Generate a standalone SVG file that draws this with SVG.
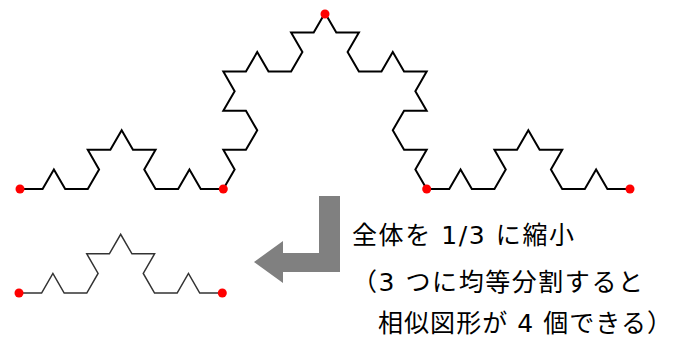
<svg xmlns="http://www.w3.org/2000/svg" width="676" height="342" viewBox="0 0 676 342">
<style>
.koch{fill:none;stroke-linejoin:miter;stroke-linecap:butt}
.top{stroke:#000;stroke-width:2}
.small{stroke:#333;stroke-width:1.5}
.dot{fill:#ff0000}
.lbl{font-family:"DejaVu Sans","Noto Sans CJK JP",sans-serif;font-size:25px;fill:#000}
</style>
<rect width="676" height="342" fill="#fff"/>
<g id="koch-full">
<path class="koch top" d="M20 189 l22.593 0 11.296 -19.566 11.296 19.566 22.593 0 11.296 -19.566 -11.296 -19.566 22.593 0 11.296 -19.566 11.296 19.566 22.593 0 -11.296 19.566 11.296 19.566 22.593 0 11.296 -19.566 11.296 19.566 22.593 0
11.296 -19.566 -11.296 -19.566 22.593 0 11.296 -19.566 -11.296 -19.566 -22.593 0 11.296 -19.566 -11.296 -19.566 22.593 0 11.296 -19.566 11.296 19.566 22.593 0 11.296 -19.566 -11.296 -19.566 22.593 0 11.296 -19.566
11.296 19.566 22.593 0 -11.296 19.566 11.296 19.566 22.593 0 11.296 -19.566 11.296 19.566 22.593 0 -11.296 19.566 11.296 19.566 -22.593 0 -11.296 19.566 11.296 19.566 22.593 0 -11.296 19.566 11.296 19.566
22.593 0 11.296 -19.566 11.296 19.566 22.593 0 11.296 -19.566 -11.296 -19.566 22.593 0 11.296 -19.566 11.296 19.566 22.593 0 -11.296 19.566 11.296 19.566 22.593 0 11.296 -19.566 11.296 19.566 22.593 0"/>
<circle class="dot" cx="20" cy="189" r="4.5"/>
<circle class="dot" cx="223.3" cy="189" r="4.5"/>
<circle class="dot" cx="325" cy="14" r="4.5"/>
<circle class="dot" cx="426.7" cy="189" r="4.5"/>
<circle class="dot" cx="630" cy="189" r="4.5"/>
</g>
<g id="koch-small">
<path class="koch small" d="M19 293 l22.593 0 11.296 -19.566 11.296 19.566 22.593 0 11.296 -19.566 -11.296 -19.566 22.593 0 11.296 -19.566 11.296 19.566 22.593 0 -11.296 19.566 11.296 19.566 22.593 0 11.296 -19.566 11.296 19.566 22.593 0"/>
<circle class="dot" cx="19" cy="293" r="4.5"/>
<circle class="dot" cx="222.3" cy="293" r="4.5"/>
</g>
<g id="connectors">
<polygon id="arrow" points="319,196 340,196 340,272 283,272 283,283 254,262 283,241 283,253 319,253" fill="#808080"/>
</g>
<g id="caption">
<text class="lbl" x="352" y="244" textLength="222" lengthAdjust="spacing">全体を 1/3 に縮小</text>
<text class="lbl" x="352" y="291" textLength="291" lengthAdjust="spacing">（3 つに均等分割すると</text>
<text class="lbl" x="378" y="332" textLength="294" lengthAdjust="spacing">相似図形が 4 個できる）</text>
</g>
</svg>
